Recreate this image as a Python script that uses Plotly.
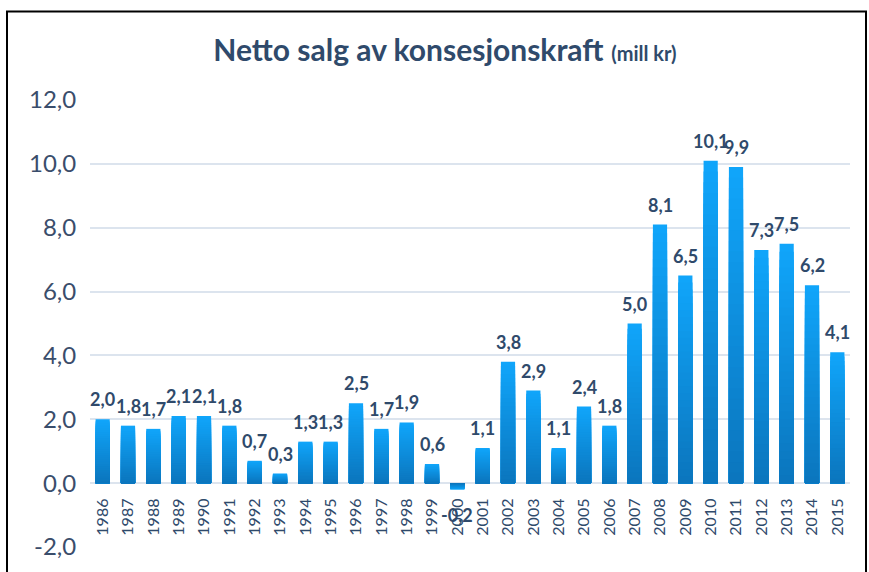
import plotly.graph_objects as go

years = list(range(1986, 2016))
values = [2.0, 1.8, 1.7, 2.1, 2.1, 1.8, 0.7, 0.3, 1.3, 1.3, 2.5, 1.7, 1.9, 0.6, -0.2,
          1.1, 3.8, 2.9, 1.1, 2.4, 1.8, 5.0, 8.1, 6.5, 10.1, 9.9, 7.3, 7.5, 6.2, 4.1]
y_ticks = [-2, 0, 2, 4, 6, 8, 10, 12]
y_tick_labels = ["-2,0", "0,0", "2,0", "4,0", "6,0", "8,0", "10,0", "12,0"]

TEXT = "#2F4A6B"
TOP = (16, 165, 250)
BOT = (11, 118, 190)
N = 30

fig = go.Figure()
# gradient bars: nested bars of decreasing height, darker toward the base
for i in range(N):
    t = 1 - i / (N - 1)
    c = tuple(round(BOT[k] + (TOP[k] - BOT[k]) * t) for k in range(3))
    fig.add_trace(go.Bar(
        x=years, y=[v * (N - i) / N for v in values],
        marker=dict(color="rgb(%d,%d,%d)" % c, line=dict(width=0)),
        width=0.56, hoverinfo="skip", showlegend=False))

fig.update_layout(barmode="overlay")

for yr, v in zip(years, values):
    lab = ("%.1f" % v).replace(".", ",")
    if v >= 0:
        fig.add_annotation(x=yr, y=v, text="<b>%s</b>" % lab, showarrow=False,
                           yanchor="bottom", yshift=7,
                           font=dict(family="Lato", size=18, color=TEXT))
    else:
        fig.add_annotation(x=yr, y=v, text="<b>%s</b>" % lab, showarrow=False,
                           yanchor="top", yshift=-12,
                           font=dict(family="Lato", size=18, color=TEXT))

zero_pos = (0 - (-2)) / (12 - (-2))

fig.update_layout(
    width=869, height=572,
    margin=dict(l=90, r=19, t=100, b=23),
    paper_bgcolor="white", plot_bgcolor="white",
    title=dict(
        text="<b>Netto salg av konsesjonskraft</b> <b><span style='font-size:20px'>(mill kr)</span></b>",
        x=0.512, xref="container", xanchor="center",
        y=1 - 50 / 572, yref="container", yanchor="middle",
        font=dict(family="Lato", size=30, color=TEXT)),
    xaxis=dict(
        type="linear", range=[1985.5, 2015.5], tickmode="array", tickvals=years,
        ticktext=[str(y) for y in years],
        tickangle=-90, anchor="free", position=zero_pos,
        showgrid=False, showline=False, zeroline=False,
        ticks="outside", ticklen=8, tickcolor="rgba(0,0,0,0)",
        tickfont=dict(family="Lato", size=16, color=TEXT)),
    yaxis=dict(
        range=[-2, 12], tickvals=y_ticks, ticktext=y_tick_labels,
        showgrid=True, gridcolor="#DCE4EE", gridwidth=2,
        zeroline=False, showline=False,
        ticks="outside", ticklen=8, tickcolor="rgba(0,0,0,0)",
        tickfont=dict(family="Lato", size=24, color="#3A4D6B")),
    shapes=[dict(type="rect", xref="paper", yref="paper",
                 x0=(7 - 90) / 760, x1=(866 - 90) / 760,
                 y0=-0.3, y1=(549 - 11) / 449,
                 line=dict(color="black", width=2), fillcolor="rgba(0,0,0,0)",
                 layer="below")],
)

fig.write_html("out.html", config={"displayModeBar": False},
               post_script="document.body.style.margin='0';")
